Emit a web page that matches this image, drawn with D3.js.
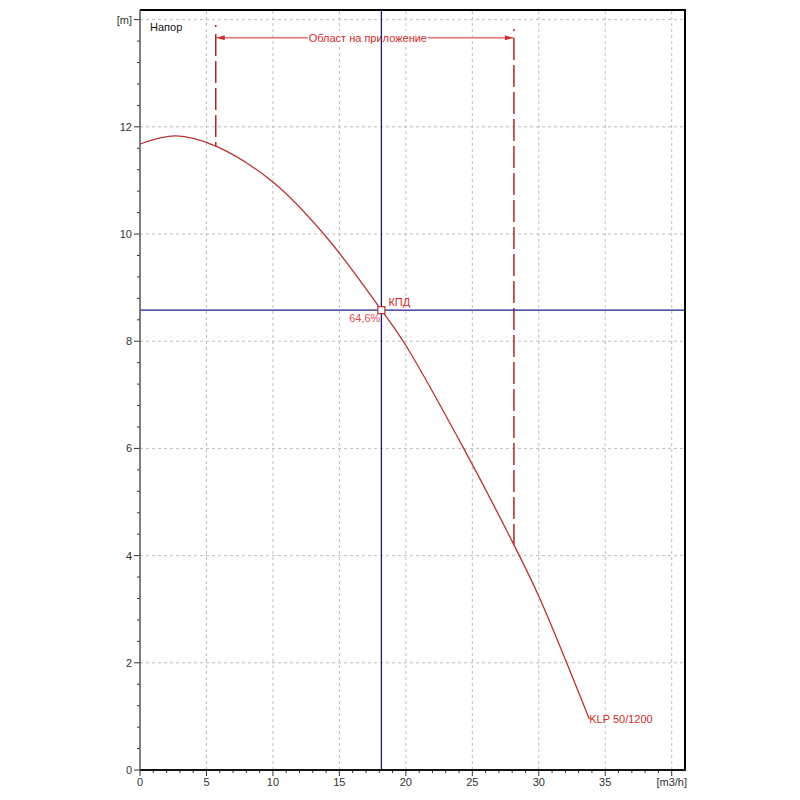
<!DOCTYPE html>
<html>
<head>
<meta charset="utf-8">
<script src="https://cdn.jsdelivr.net/npm/d3@7"></script>
<style>
  body { margin: 0; background: #fff; }
  text { font-family: "Liberation Sans", Arial, sans-serif; }
</style>
</head>
<body>
<script>
var w = 800;
var h = 800;

// pump curve Q [m3/h] / H [m]
var flow = [0, 2.7, 5.7, 10.0, 14.0, 18.16, 20.0, 24.35, 28.13, 30.0, 33.8];
var head = [11.68, 11.83, 11.64, 10.97, 9.95, 8.58, 7.92, 6.0, 4.2, 3.24, 0.95];

var xTicks = [0, 5, 10, 15, 20, 25, 30, 35];
var yTicks = [0, 2, 4, 6, 8, 10, 12];
var xUnit = "[m3/h]";
var yUnit = "[m]";
var yTitle = "Напор";
var curveName = "KLP 50/1200";

var duty = {q: 18.16, h: 8.58, label: "КПД", eff: "64,6%"};
var range = {from: 5.7, to: 28.13, h: 13.66, top: 13.9, label: "Област на приложение"};

var red = "#d42a2a";
var curveRed = "#b83232";
var navy = "#1c1c8a";

var x = d3.scaleLinear().domain([0, 41]).range([140, 685]);
var y = d3.scaleLinear().domain([0, 14.18]).range([770, 10]);

var svg = d3.select("body")
            .append("svg")
              .attr("width", w)
              .attr("height", h);

// grid
svg.selectAll(".gx")
    .data(d3.range(5, 41, 5))
    .enter()
    .append("line")
      .attr("x1", function(d) { return x(d); })
      .attr("x2", function(d) { return x(d); })
      .attr("y1", y.range()[0])
      .attr("y2", y.range()[1])
      .attr("stroke", "#bdbdbd")
      .attr("stroke-dasharray", "3,3");

svg.selectAll(".gy")
    .data(d3.range(2, 15, 2))
    .enter()
    .append("line")
      .attr("x1", x.range()[0])
      .attr("x2", x.range()[1])
      .attr("y1", function(d) { return y(d); })
      .attr("y2", function(d) { return y(d); })
      .attr("stroke", "#bdbdbd")
      .attr("stroke-dasharray", "3,3");

// minor ticks
svg.selectAll(".mx")
    .data(d3.range(0, 41, 1))
    .enter()
    .append("line")
      .attr("x1", function(d) { return x(d); })
      .attr("x2", function(d) { return x(d); })
      .attr("y1", 770)
      .attr("y2", function(d) { return d % 5 == 0 ? 776 : 773; })
      .attr("stroke", "#333");

svg.selectAll(".my")
    .data(d3.range(0, 36, 1).map(function(i) { return i * 0.4; }))
    .enter()
    .append("line")
      .attr("x1", 140)
      .attr("x2", function(d, i) { return i % 5 == 0 ? 134 : 137; })
      .attr("y1", function(d) { return y(d); })
      .attr("y2", function(d) { return y(d); })
      .attr("stroke", "#333");

// tick labels
svg.selectAll(".tx")
    .data(xTicks)
    .enter()
    .append("text")
      .attr("x", function(d) { return x(d); })
      .attr("y", 786)
      .attr("text-anchor", "middle")
      .attr("font-size", 11)
      .attr("fill", "#333")
      .text(function(d) { return d; });

svg.append("text")
    .attr("x", x(40))
    .attr("y", 786)
    .attr("text-anchor", "middle")
    .attr("font-size", 11)
    .attr("fill", "#333")
    .text(xUnit);

svg.selectAll(".ty")
    .data(yTicks)
    .enter()
    .append("text")
      .attr("x", 132)
      .attr("y", function(d) { return y(d) + 4; })
      .attr("text-anchor", "end")
      .attr("font-size", 11)
      .attr("fill", "#333")
      .text(function(d) { return d; });

svg.append("text")
    .attr("x", 132)
    .attr("y", y(14) + 4)
    .attr("text-anchor", "end")
    .attr("font-size", 11)
    .attr("fill", "#333")
    .text(yUnit);

svg.append("text")
    .attr("x", 150)
    .attr("y", 31)
    .attr("font-size", 11)
    .attr("fill", "#111")
    .text(yTitle);

// application range
var dash = [2, 7];
for (var i = 0; i < 30; i++) { dash.push(22, 5); }
var rangeDash = [[range.from, y(range.top), y(11.64)], [range.to, y(range.top) + 4, y(4.2)]];
svg.selectAll(".rd")
    .data(rangeDash)
    .enter()
    .append("line")
      .attr("x1", function(d) { return x(d[0]); })
      .attr("x2", function(d) { return x(d[0]); })
      .attr("y1", function(d) { return d[1]; })
      .attr("y2", function(d) { return d[2]; })
      .attr("stroke", "#b02828")
      .attr("stroke-width", 1.5)
      .attr("stroke-dasharray", dash.join(","));

svg.append("line")
    .attr("x1", x(range.from))
    .attr("x2", x(range.to))
    .attr("y1", y(range.h))
    .attr("y2", y(range.h))
    .attr("stroke", red)
    .attr("stroke-width", 1);

svg.append("path")
    .attr("d", "M" + (x(range.from) + 1) + "," + y(range.h) + "l8,-2.5v5z")
    .attr("fill", red);
svg.append("path")
    .attr("d", "M" + (x(range.to) - 1) + "," + y(range.h) + "l-8,-2.5v5z")
    .attr("fill", red);

var mid = (x(range.from) + x(range.to)) / 2 + 0.5 * (x(range.to) - x(range.from)) * 0.02;
svg.append("rect")
    .attr("x", mid - 60)
    .attr("y", y(range.h) - 7)
    .attr("width", 120)
    .attr("height", 13)
    .attr("fill", "#fff");
svg.append("text")
    .attr("x", mid)
    .attr("y", y(range.h) + 4)
    .attr("text-anchor", "middle")
    .attr("font-size", 11)
    .attr("fill", red)
    .text(range.label);

// duty lines
svg.append("line")
    .attr("x1", x(duty.q))
    .attr("x2", x(duty.q))
    .attr("y1", y.range()[0])
    .attr("y2", y.range()[1])
    .attr("stroke", navy)
    .attr("stroke-width", 1.3);
svg.append("line")
    .attr("x1", x.range()[0])
    .attr("x2", x.range()[1])
    .attr("y1", y(duty.h))
    .attr("y2", y(duty.h))
    .attr("stroke", navy)
    .attr("stroke-width", 1.3);

// pump curve
var pts = flow.map(function(q, i) { return [q, head[i]]; });
var line = d3.line()
    .x(function(d) { return x(d[0]); })
    .y(function(d) { return y(d[1]); })
    .curve(d3.curveCatmullRom.alpha(0.5));

svg.append("path")
    .datum(pts)
    .attr("d", line)
    .attr("fill", "none")
    .attr("stroke", curveRed)
    .attr("stroke-width", 1.3);

svg.append("rect")
    .attr("x", x(duty.q) - 3.5)
    .attr("y", y(duty.h) - 3.5)
    .attr("width", 7)
    .attr("height", 7)
    .attr("fill", "#fff")
    .attr("stroke", curveRed)
    .attr("stroke-width", 1.2);

svg.append("text")
    .attr("x", x(duty.q) + 7)
    .attr("y", y(duty.h) - 4)
    .attr("font-size", 11)
    .attr("fill", red)
    .text(duty.label);
svg.append("text")
    .attr("x", x(duty.q) - 1)
    .attr("y", y(duty.h) + 12)
    .attr("text-anchor", "end")
    .attr("font-size", 11)
    .attr("fill", "#e05050")
    .text(duty.eff);

var last = pts[pts.length - 1];
svg.append("text")
    .attr("x", x(last[0]))
    .attr("y", y(last[1]) + 4)
    .attr("font-size", 11)
    .attr("fill", red)
    .text(curveName);

// frame
svg.append("path")
    .attr("d", "M" + x.range()[0] + "," + y.range()[1] + "H" + x.range()[1] + "V" + y.range()[0])
    .attr("fill", "none")
    .attr("stroke", "#000")
    .attr("stroke-width", 2);
svg.append("line")
    .attr("x1", x.range()[0]).attr("x2", x.range()[1] + 1)
    .attr("y1", y.range()[0]).attr("y2", y.range()[0])
    .attr("stroke", "#111")
    .attr("stroke-width", 2);
svg.append("line")
    .attr("x1", x.range()[0]).attr("x2", x.range()[0])
    .attr("y1", y.range()[1]).attr("y2", y.range()[0])
    .attr("stroke", "#555")
    .attr("stroke-width", 1.5);
</script>
</body>
</html>
